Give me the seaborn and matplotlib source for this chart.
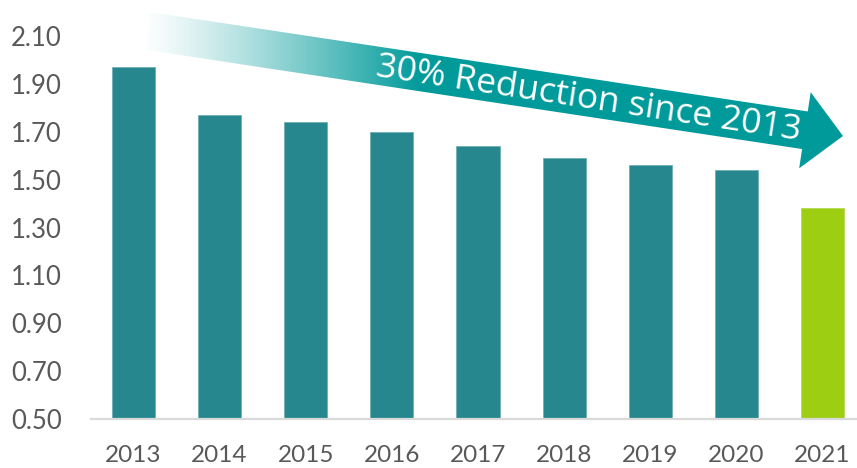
import numpy as np
import pandas as pd
import matplotlib
matplotlib.use("Agg")
import matplotlib.pyplot as plt
from matplotlib.patches import Polygon
import seaborn as sns

# Data
years = ["2013", "2014", "2015", "2016", "2017", "2018", "2019", "2020", "2021"]
values = [1.97, 1.77, 1.74, 1.70, 1.64, 1.59, 1.56, 1.54, 1.38]
y_ticks = [0.50, 0.70, 0.90, 1.10, 1.30, 1.50, 1.70, 1.90, 2.10]

TEAL = "#27878F"
GREEN = "#9DCE12"
ARROW = "#009A9A"
TEXT_GREY = "#595959"

sns.set_theme(style="white")
plt.rcParams["font.family"] = ["Lato", "DejaVu Sans"]

W, H = 857, 468
fig = plt.figure(figsize=(W / 100, H / 100), dpi=100)
ax = fig.add_axes([91 / W, (H - 419) / H, 1 - 91 / W, (419 - 36) / H])

df = pd.DataFrame({"year": years, "value": values})
palette = {y: (GREEN if i == len(years) - 1 else TEAL) for i, y in enumerate(years)}
sns.barplot(data=df, x="year", y="value", hue="year", palette=palette,
            width=0.5, legend=False, ax=ax, saturation=1,
            edgecolor="#6FB0B6", linewidth=0.6)
# keep the highlighted bar edge in its own tone
ax.patches[-1].set_edgecolor("#B5DA55")

ax.set_ylim(0.5, 2.1)
ax.set_xlim(-0.493, 8.40)
ax.set_yticks(y_ticks)
ax.set_yticklabels([f"{v:.2f}" for v in y_ticks])
ax.set_xlabel("")
ax.set_ylabel("")
for s in ["top", "right", "left"]:
    ax.spines[s].set_visible(False)
ax.spines["bottom"].set_color("#D9D9D9")
ax.spines["bottom"].set_linewidth(1.6)
ax.tick_params(axis="y", length=0, pad=21, labelsize=18.5, labelcolor=TEXT_GREY)
ax.tick_params(axis="x", length=0, pad=19, labelsize=17.5, labelcolor=TEXT_GREY)

# Overlay in pixel units for the trend arrow
ov = fig.add_axes([0, 0, 1, 1], zorder=5)
ov.set_xlim(0, W)
ov.set_ylim(H, 0)
ov.axis("off")

start = np.array([148.0, 31.0])
tip = np.array([843.0, 136.0])
d = (tip - start) / np.linalg.norm(tip - start)
n = np.array([-d[1], d[0]])
shaft_half = 19.0
head_half = 38.5
head_len = 38.5
base = tip - d * head_len
pts = [start - n * shaft_half, base - n * shaft_half, base - n * head_half, tip,
       base + n * head_half, base + n * shaft_half, start + n * shaft_half]
poly = Polygon(pts, closed=True, facecolor="none", edgecolor="none")
ov.add_patch(poly)

# horizontal fade from white to solid teal
xx = np.linspace(0, W, W)
alpha = np.clip((xx - 140) / (420 - 140), 0, 1) ** 1.2
rgb = np.array(matplotlib.colors.to_rgb(ARROW))
img = np.zeros((H, W, 4))
img[..., :3] = rgb
img[..., 3] = alpha[None, :]
im = ov.imshow(img, extent=[0, W, H, 0], interpolation="nearest", aspect="auto", zorder=5)
im.set_clip_path(poly)

reduction = round((1 - values[-1] / values[0]) * 100)
angle = -np.degrees(np.arctan2(d[1], d[0]))
cx = 588
cy = start[1] + (cx - start[0]) * d[1] / d[0] + 2
ov.text(cx, cy, f"{reduction}% Reduction since {years[0]}", color="white",
        fontsize=25.5, family=["Open Sans", "DejaVu Sans"], rotation=angle,
        rotation_mode="anchor", ha="center", va="center", zorder=6)

fig.savefig("out.png", dpi=100, facecolor="white")
